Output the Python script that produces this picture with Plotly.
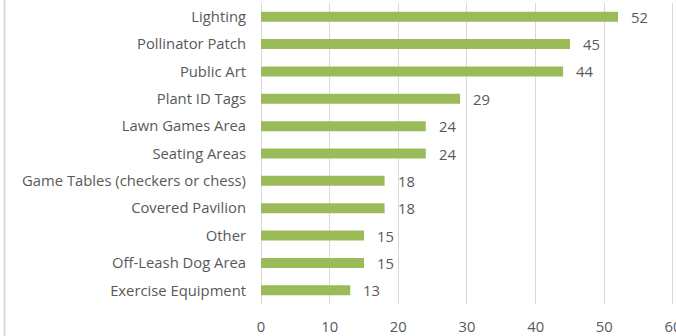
import plotly.graph_objects as go

# Survey responses: requested park amenities
amenities = [
    "Lighting",
    "Pollinator Patch",
    "Public Art",
    "Plant ID Tags",
    "Lawn Games Area",
    "Seating Areas",
    "Game Tables (checkers or chess)",
    "Covered Pavilion",
    "Other",
    "Off-Leash Dog Area",
    "Exercise Equipment",
]
counts = [52, 45, 44, 29, 24, 24, 18, 18, 15, 15, 13]
x_ticks = [0, 10, 20, 30, 40, 50, 60]

bar_color = "#9BBB59"
text_color = "#595959"
grid_color = "#D9D9D9"
font_family = "'Open Sans', Lato, sans-serif"
font_size = 14.8

fig = go.Figure()
fig.add_trace(go.Bar(
    y=amenities,
    x=counts,
    orientation="h",
    marker=dict(color=bar_color, line=dict(width=0)),
    hoverinfo="skip",
))

# value labels to the right of each bar
for name, val in zip(amenities, counts):
    fig.add_annotation(
        x=val, y=name, xref="x", yref="y",
        text=str(val), showarrow=False,
        xanchor="left", yanchor="middle", xshift=11,
        font=dict(family=font_family, size=font_size, color=text_color),
    )

# outer frame line on the left edge
fig.add_shape(
    type="line", xref="paper", yref="paper",
    x0=-0.621, x1=-0.621, y0=-0.2, y1=1.2,
    line=dict(color=grid_color, width=2),
)

fig.update_layout(
    width=676, height=336,
    margin=dict(l=261, r=2, t=3, b=32, autoexpand=False),
    paper_bgcolor="white", plot_bgcolor="white",
    bargap=0.635,
    showlegend=False,
    font=dict(family=font_family, size=font_size, color=text_color),
)
fig.update_xaxes(
    range=[0, 60.15],
    tickvals=x_ticks,
    ticktext=[str(t) for t in x_ticks],
    showgrid=True, gridcolor=grid_color, gridwidth=1,
    zeroline=True, zerolinecolor=grid_color, zerolinewidth=1,
    showline=False, ticks="",
    automargin=False,
    ticklabelstandoff=12,
    ticklabeloverflow="allow",
    tickfont=dict(family=font_family, size=font_size, color=text_color),
)
fig.update_yaxes(
    categoryorder="array",
    categoryarray=amenities,
    autorange="reversed",
    showgrid=False, zeroline=False, showline=False, ticks="",
    automargin=False,
    ticklabelstandoff=14,
    tickfont=dict(family=font_family, size=font_size, color=text_color),
)

fig.write_html("out.html")
